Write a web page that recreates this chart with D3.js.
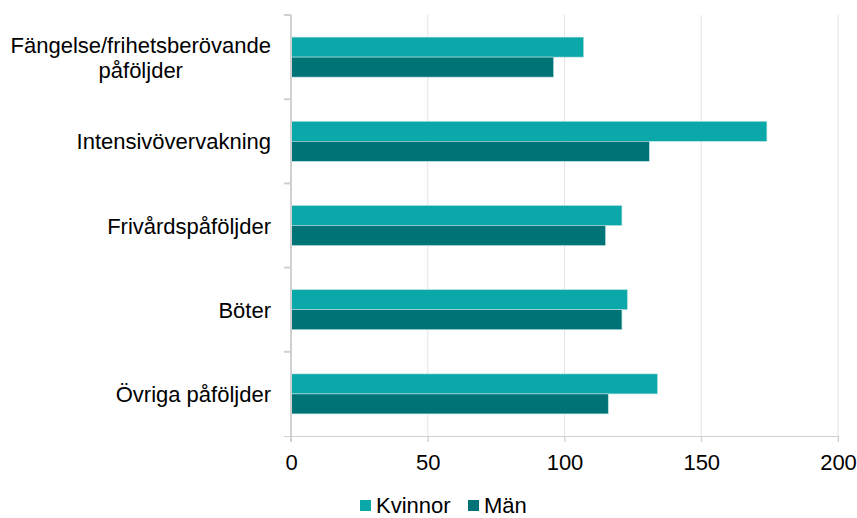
<!DOCTYPE html>
<html>
<head>
<meta charset="utf-8">
<script src="https://cdn.jsdelivr.net/npm/d3@7"></script>
<style>
  body { margin: 0; background: #fff; }
  text { font-family: "Liberation Sans", Arial, sans-serif; fill: #000; }
</style>
</head>
<body>
<div id="chart"></div>
<script>
// data
const categories = [["Fängelse/frihetsberövande", "påföljder"], ["Intensivövervakning"], ["Frivårdspåföljder"], ["Böter"], ["Övriga påföljder"]];
const seriesNames = ["Kvinnor", "Män"];
const kvinnor = [107, 174, 121, 123, 134];
const man = [96, 131, 115, 121, 116];
const xTicks = [0, 50, 100, 150, 200];
const colors = ["#0aa8a8", "#007377"];

const width = 857, height = 518;
const margin = {top: 15, right: 19, bottom: 82, left: 291};
const fs = "22px";

const svg = d3.select("#chart").append("svg")
  .attr("width", width).attr("height", height);

const x = d3.scaleLinear().domain([0, 200]).range([margin.left, width - margin.right]);
const y = d3.scaleBand().domain(d3.range(categories.length)).range([margin.top, height - margin.bottom]);

// grid lines
svg.append("g").selectAll("line").data(xTicks.slice(1)).join("line")
  .attr("x1", d => x(d)).attr("x2", d => x(d))
  .attr("y1", margin.top).attr("y2", height - margin.bottom + 6)
  .attr("stroke", "#e3e3e3").attr("stroke-width", 1);

// bars
const barH = 20;
const values = [kvinnor, man];
values.forEach((vals, s) => {
  svg.append("g").selectAll("rect").data(vals).join("rect")
    .attr("x", x(0))
    .attr("y", (d, i) => y(i) + y.bandwidth() / 2 - barH + s * barH)
    .attr("width", d => x(d) - x(0))
    .attr("height", barH)
    .attr("fill", colors[s])
    .attr("stroke", "#b8e0e0").attr("stroke-width", 0.6);
});

// x axis
const xAxis = svg.append("g")
  .attr("transform", `translate(0,${height - margin.bottom})`)
  .call(d3.axisBottom(x).tickValues(xTicks).tickSize(6));
xAxis.select(".domain").attr("stroke", "#d0d0d0").attr("d", `M${x(0) - 7},0.5H${x(200)}`);
xAxis.selectAll(".tick line").attr("stroke", "#d0d0d0");
xAxis.selectAll("text")
  .attr("y", 34).attr("dy", 0)
  .attr("font-family", "Liberation Sans, Arial, sans-serif")
  .attr("fill", "#000")
  .style("font-size", fs);

// y axis
const yAxisG = svg.append("g");
yAxisG.append("line")
  .attr("x1", x(0)).attr("x2", x(0))
  .attr("y1", margin.top).attr("y2", height - margin.bottom + 6)
  .attr("stroke", "#d0d0d0").attr("stroke-width", 2);
yAxisG.selectAll("line.tk").data(d3.range(categories.length)).join("line")
  .attr("class", "tk")
  .attr("x1", x(0) - 7).attr("x2", x(0))
  .attr("y1", d => y(d)).attr("y2", d => y(d))
  .attr("stroke", "#d0d0d0").attr("stroke-width", 2);

// category labels: block right-aligned, lines centred inside the block
const lineH = 25;
const labelRight = x(0) - 20;
categories.forEach((lines, i) => {
  const t = svg.append("text")
    .attr("y", y(i) + y.bandwidth() / 2 + 8 - (lines.length - 1) * lineH / 2)
    .attr("text-anchor", "middle")
    .style("font-size", fs);
  const spans = t.selectAll("tspan").data(lines).join("tspan")
    .attr("dy", (d, j) => j === 0 ? 0 : lineH)
    .text(d => d);
  let maxW = 0;
  spans.each(function () { maxW = Math.max(maxW, this.getComputedTextLength()); });
  spans.attr("x", labelRight - maxW / 2);
});

// legend
const legend = svg.append("g").attr("transform", "translate(360,513)");
const legX = [0, 108];
seriesNames.forEach((n, i) => {
  legend.append("rect").attr("x", legX[i]).attr("y", -13).attr("width", 11).attr("height", 11).attr("fill", colors[i]);
  legend.append("text").attr("x", legX[i] + 16).attr("y", 0)
    .style("font-size", fs).text(n);
});
</script>
</body>
</html>
